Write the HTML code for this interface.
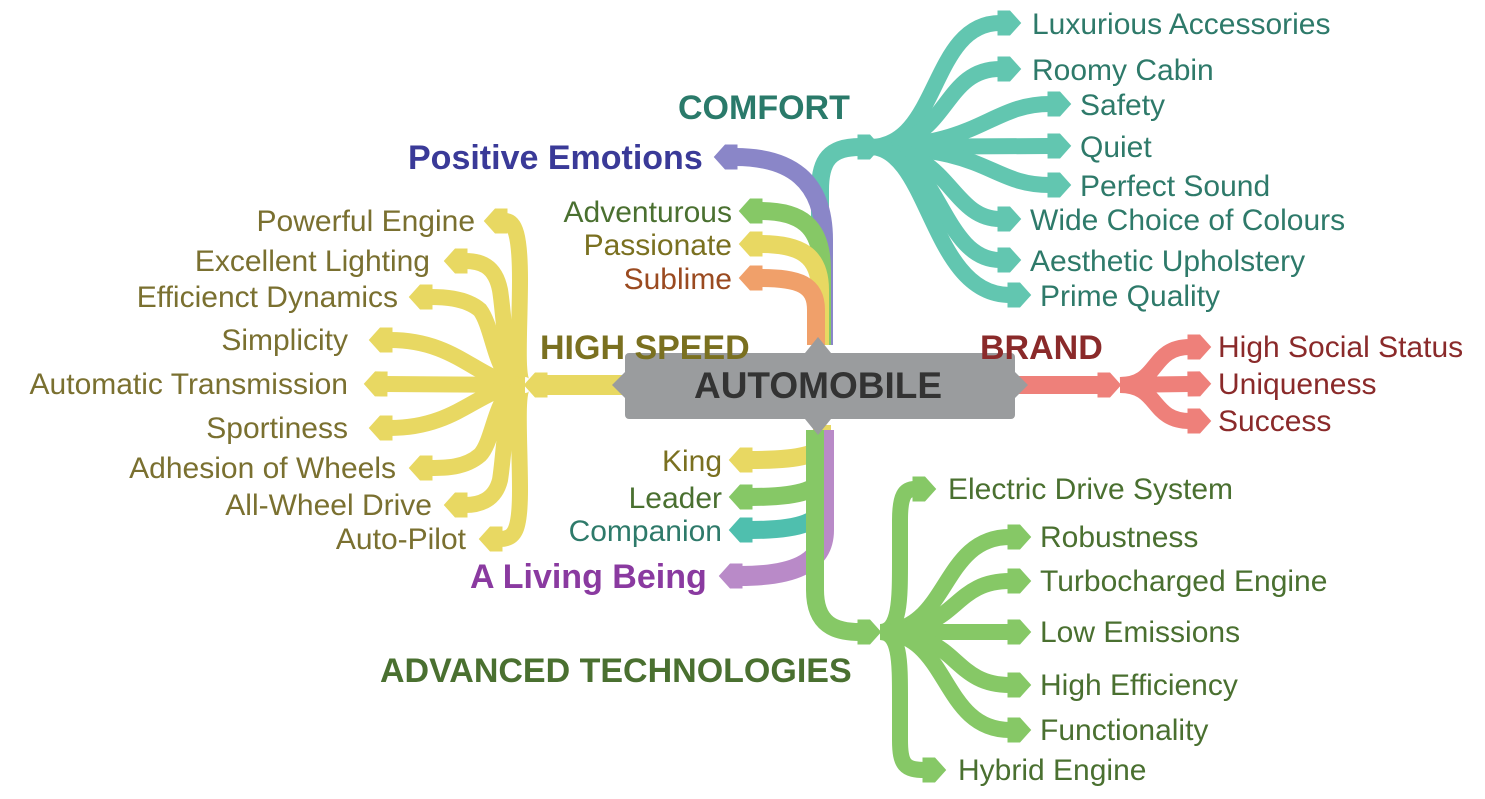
<!DOCTYPE html>
<html><head><meta charset="utf-8"><style>
html,body{margin:0;padding:0;background:#fff;}
svg{display:block;}
text{font-family:"Liberation Sans",sans-serif;}
.it{font-size:30px;}
.b{font-weight:bold;font-size:34px;}
</style></head><body>
<svg width="1485" height="799" viewBox="0 0 1485 799" xmlns="http://www.w3.org/2000/svg">
<defs>
<marker id="mT" markerUnits="userSpaceOnUse" markerWidth="30" markerHeight="30" refX="0" refY="0" viewBox="-4 -12 24 24" orient="auto"><path d="M-2,-10 L8,-10 L17,0 L8,10 L-2,10 z" fill="#62c6b0"/></marker>
<marker id="mY" markerUnits="userSpaceOnUse" markerWidth="30" markerHeight="30" refX="0" refY="0" viewBox="-4 -12 24 24" orient="auto"><path d="M-2,-10 L8,-10 L17,0 L8,10 L-2,10 z" fill="#e8d862"/></marker>
<marker id="mG" markerUnits="userSpaceOnUse" markerWidth="30" markerHeight="30" refX="0" refY="0" viewBox="-4 -12 24 24" orient="auto"><path d="M-2,-10 L8,-10 L17,0 L8,10 L-2,10 z" fill="#86c866"/></marker>
<marker id="mP" markerUnits="userSpaceOnUse" markerWidth="30" markerHeight="30" refX="0" refY="0" viewBox="-4 -12 24 24" orient="auto"><path d="M-2,-10 L8,-10 L17,0 L8,10 L-2,10 z" fill="#8a86c8"/></marker>
<marker id="mO" markerUnits="userSpaceOnUse" markerWidth="30" markerHeight="30" refX="0" refY="0" viewBox="-4 -12 24 24" orient="auto"><path d="M-2,-10 L8,-10 L17,0 L8,10 L-2,10 z" fill="#f0a06a"/></marker>
<marker id="mR" markerUnits="userSpaceOnUse" markerWidth="30" markerHeight="30" refX="0" refY="0" viewBox="-4 -12 24 24" orient="auto"><path d="M-2,-10 L8,-10 L17,0 L8,10 L-2,10 z" fill="#ee807a"/></marker>
<marker id="mV" markerUnits="userSpaceOnUse" markerWidth="30" markerHeight="30" refX="0" refY="0" viewBox="-4 -12 24 24" orient="auto"><path d="M-2,-10 L8,-10 L17,0 L8,10 L-2,10 z" fill="#b98ac8"/></marker>
<marker id="mC" markerUnits="userSpaceOnUse" markerWidth="30" markerHeight="30" refX="0" refY="0" viewBox="-4 -12 24 24" orient="auto"><path d="M-2,-10 L8,-10 L17,0 L8,10 L-2,10 z" fill="#4fbfae"/></marker>
</defs>
<g fill="none">
<path d="M820,340 L820,190 C820,160 830,147 860,147" stroke="#62c6b0" stroke-width="18" marker-end="url(#mT)"/>
<g stroke="#62c6b0" stroke-width="16">
<path d="M870,147 C940,147 930,23 1000,23" marker-end="url(#mT)"/>
<path d="M870,147 C950,147 940,69 1000,69" marker-end="url(#mT)"/>
<path d="M870,147 C980,147 990,104 1050,104" marker-end="url(#mT)"/>
<path d="M870,147 L1050,146" marker-end="url(#mT)"/>
<path d="M870,147 C990,147 990,185 1050,185" marker-end="url(#mT)"/>
<path d="M870,147 C950,147 950,219 1000,219" marker-end="url(#mT)"/>
<path d="M870,147 C940,147 940,260 1000,260" marker-end="url(#mT)"/>
<path d="M870,147 C930,147 930,295 1010,295" marker-end="url(#mT)"/>
</g>
<path d="M824,345 L824,240 C824,180 790,157 735,157" stroke="#8a86c8" stroke-width="18" marker-end="url(#mP)"/>
<path d="M822,345 L822,270 C822,225 800,211 760,211" stroke="#86c866" stroke-width="18" marker-end="url(#mG)"/>
<path d="M820,345 L820,290 C820,255 800,244 760,244" stroke="#e8d862" stroke-width="18" marker-end="url(#mY)"/>
<path d="M816,345 L816,310 C816,285 800,278 760,278" stroke="#f0a06a" stroke-width="18" marker-end="url(#mO)"/>
<path d="M822,425 L822,440 C822,455 800,460 750,460" stroke="#e8d862" stroke-width="18" marker-end="url(#mY)"/>
<path d="M824,430 L824,470 C824,490 800,497 750,497" stroke="#86c866" stroke-width="18" marker-end="url(#mG)"/>
<path d="M824,430 L824,500 C824,522 800,530 750,530" stroke="#4fbfae" stroke-width="18" marker-end="url(#mC)"/>
<path d="M824,430 L824,530 C824,565 790,576 740,576" stroke="#b98ac8" stroke-width="20" marker-end="url(#mV)"/>
<path d="M815,430 L815,590 C815,625 835,632 860,632" stroke="#86c866" stroke-width="18" marker-end="url(#mG)"/>
<g stroke="#86c866" stroke-width="16">
<path d="M880,632 C900,632 900,600 900,560 L900,520 C900,495 905,489 915,489" marker-end="url(#mG)"/>
<path d="M880,632 C900,632 900,660 900,700 L900,740 C900,765 905,770 925,770" marker-end="url(#mG)"/>
<path d="M880,632 C950,632 940,537 1010,537" marker-end="url(#mG)"/>
<path d="M880,632 C960,632 950,581 1010,581" marker-end="url(#mG)"/>
<path d="M880,632 L1010,632" marker-end="url(#mG)"/>
<path d="M880,632 C960,632 950,685 1010,685" marker-end="url(#mG)"/>
<path d="M880,632 C950,632 940,730 1010,730" marker-end="url(#mG)"/>
</g>
<path d="M625,385 L545,385" stroke="#e8d862" stroke-width="20" marker-end="url(#mY)"/>
<g stroke="#e8d862" stroke-width="16">
<path d="M525,385 C515,385 520,330 520,280 C520,235 515,221 505,221" marker-end="url(#mY)"/>
<path d="M525,385 C505,385 505,320 500,290 C495,265 480,261 465,261" marker-end="url(#mY)"/>
<path d="M525,385 C495,385 495,330 480,310 C465,297 440,297 430,297" marker-end="url(#mY)"/>
<path d="M525,385 C480,385 460,340 390,340" marker-end="url(#mY)"/>
<path d="M525,385 L385,384" marker-end="url(#mY)"/>
<path d="M525,385 C480,385 460,428 390,428" marker-end="url(#mY)"/>
<path d="M525,385 C495,385 495,440 480,455 C465,468 445,468 430,468" marker-end="url(#mY)"/>
<path d="M525,385 C505,385 505,450 500,480 C495,500 480,505 465,505" marker-end="url(#mY)"/>
<path d="M525,385 C515,385 520,440 520,490 C520,530 515,539 500,539" marker-end="url(#mY)"/>
</g>
<path d="M1015,385 L1100,385" stroke="#ee807a" stroke-width="18" marker-end="url(#mR)"/>
<g stroke="#ee807a" stroke-width="16">
<path d="M1120,385 C1160,385 1150,347 1190,347" marker-end="url(#mR)"/>
<path d="M1120,385 L1190,384" marker-end="url(#mR)"/>
<path d="M1120,385 C1160,385 1150,421 1190,421" marker-end="url(#mR)"/>
</g>
</g>
<rect x="625" y="353" width="390" height="66" rx="4" fill="#9a9c9e"/>
<polygon points="805,353 818,337 831,353" fill="#9a9c9e"/>
<polygon points="805,419 818,435 831,419" fill="#9a9c9e"/>
<polygon points="625,372 612,385 625,398" fill="#9a9c9e"/>
<polygon points="1015,372 1028,385 1015,398" fill="#9a9c9e"/>
<text x="818" y="398" text-anchor="middle" font-weight="bold" font-size="37" fill="#333">AUTOMOBILE</text>
<text class="b" x="678" y="119" fill="#2a7a6a">COMFORT</text>
<text class="b" x="408" y="169" fill="#3a3a98">Positive Emotions</text>
<text class="b" x="540" y="359" fill="#7a7020">HIGH SPEED</text>
<text class="b" x="980" y="359" fill="#8a2a2a">BRAND</text>
<text class="b" x="380" y="682" fill="#4a7030">ADVANCED TECHNOLOGIES</text>
<text class="b" x="470" y="588" fill="#8a3aa0">A Living Being</text>
<g class="it" fill="#2e7a6a">
<text x="1032" y="34">Luxurious Accessories</text>
<text x="1032" y="80">Roomy Cabin</text>
<text x="1080" y="115">Safety</text>
<text x="1080" y="157">Quiet</text>
<text x="1080" y="196">Perfect Sound</text>
<text x="1030" y="230">Wide Choice of Colours</text>
<text x="1030" y="271">Aesthetic Upholstery</text>
<text x="1040" y="306">Prime Quality</text>
</g>
<g class="it" text-anchor="end">
<text x="732" y="222" fill="#4a7030">Adventurous</text>
<text x="732" y="255" fill="#7a7020">Passionate</text>
<text x="732" y="289" fill="#9a4a20">Sublime</text>
<text x="722" y="471" fill="#7a7020">King</text>
<text x="722" y="508" fill="#4a7030">Leader</text>
<text x="722" y="541" fill="#2e7a6a">Companion</text>
</g>
<g class="it" text-anchor="end" fill="#7a7030">
<text x="475" y="231">Powerful Engine</text>
<text x="430" y="271">Excellent Lighting</text>
<text x="398" y="307">Efficienct Dynamics</text>
<text x="348" y="350">Simplicity</text>
<text x="348" y="394">Automatic Transmission</text>
<text x="348" y="438">Sportiness</text>
<text x="396" y="478">Adhesion of Wheels</text>
<text x="432" y="515">All-Wheel Drive</text>
<text x="466" y="549">Auto-Pilot</text>
</g>
<g class="it" fill="#8a2a2a">
<text x="1218" y="357">High Social Status</text>
<text x="1218" y="394">Uniqueness</text>
<text x="1218" y="431">Success</text>
</g>
<g class="it" fill="#4a7030">
<text x="948" y="499">Electric Drive System</text>
<text x="1040" y="547">Robustness</text>
<text x="1040" y="591">Turbocharged Engine</text>
<text x="1040" y="642">Low Emissions</text>
<text x="1040" y="695">High Efficiency</text>
<text x="1040" y="740">Functionality</text>
<text x="958" y="780">Hybrid Engine</text>
</g>
</svg>
</body></html>
